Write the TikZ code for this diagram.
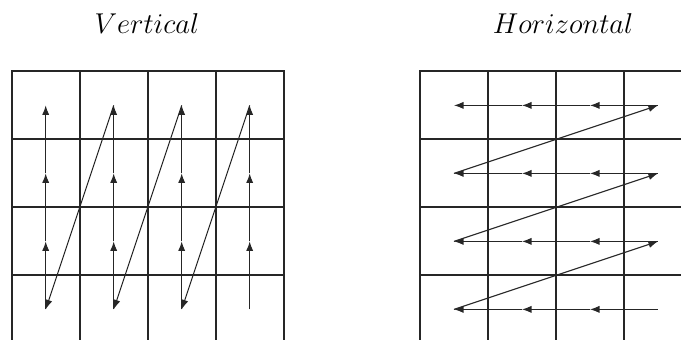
\documentclass[tikz,border=0pt]{standalone}
\usetikzlibrary{arrows.meta}
\begin{document}
\begin{tikzpicture}[
          grid/.style={line width=0.85pt, line cap=rect, black!85},
          scan/.style={line width=0.45pt, black!85, -{Latex[length=4pt,width=3pt]}},
          title/.style={font=\large, anchor=base}
        ]
        \useasboundingbox (0,0) rectangle (10.015,5);

        % Titles
        \node[title] (vtitle) at (2.16,4.51) {$Vertical$};
        \node[title] (htitle) at (8.28,4.51) {$Horizontal$};

        % Left grid
        \foreach \y in {3.95,2.95,1.95,0.95}
          \draw[grid] (0.172,\y) -- (4.172,\y);
        \foreach \x in {0.172,1.172,2.172,3.172,4.172}
          \draw[grid] (\x,3.95) -- (\x,0);

        % Right grid (runs off the right edge)
        \foreach \y in {3.95,2.95,1.95,0.95}
          \draw[grid] (6.176,\y) -- (10.015,\y);
        \foreach \x in {6.176,7.176,8.176,9.176}
          \draw[grid] (\x,3.95) -- (\x,0);

        % Cell centres
        \foreach \c in {1,...,4}
          \foreach \r in {1,...,4} {
            \coordinate (v\c\r) at ({0.172+\c-0.5},{4.45-\r});
            \coordinate (h\c\r) at ({6.176+\c-0.5},{4.45-\r});
          }

        % Vertical scan
        \foreach \c in {1,...,4} {
          \draw[scan] (v\c4) -- (v\c3);
          \draw[scan] (v\c3) -- (v\c2);
          \draw[scan] (v\c2) -- (v\c1);
        }
        \foreach \c/\n in {1/2,2/3,3/4}
          \draw[scan] (v\n1) -- (v\c4);

        % Horizontal scan
        \foreach \r in {1,...,4} {
          \draw[scan] (h4\r) -- (h3\r);
          \draw[scan] (h3\r) -- (h2\r);
          \draw[scan] (h2\r) -- (h1\r);
        }
        \foreach \r/\n in {1/2,2/3,3/4}
          \draw[scan] (h1\n) -- (h4\r);

      \end{tikzpicture}
\end{document}
